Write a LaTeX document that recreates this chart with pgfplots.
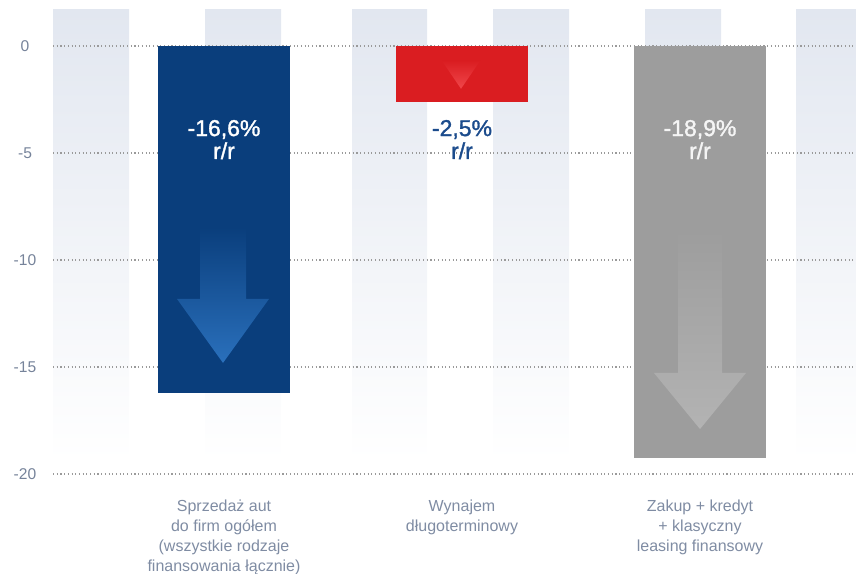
\documentclass[border=0pt]{standalone}
\usepackage{fontspec}
\setmainfont{Liberation Sans}
\newfontfamily\medfont[FakeBold=1.4]{Liberation Sans}
\usepackage{pgfplots}
\pgfplotsset{compat=1.18}
\definecolor{stripe}{HTML}{E2E7F0}
\definecolor{gridc}{HTML}{9A9A9A}
\definecolor{tickc}{HTML}{76839A}
\definecolor{catc}{HTML}{7F8CA3}
\definecolor{barblue}{HTML}{0A3E7C}
\definecolor{arrblue}{HTML}{2A70BC}
\definecolor{arrbluem}{HTML}{1F5EA6}
\definecolor{barred}{HTML}{DA1D21}
\definecolor{arrred}{HTML}{F0474B}
\definecolor{bargray}{HTML}{9D9D9D}
\definecolor{arrgray}{HTML}{B3B3B3}
\definecolor{arrgraym}{HTML}{ABABAB}
\definecolor{lblblue}{HTML}{1B4B8C}
\begin{document}
\begin{tikzpicture}
\useasboundingbox (0,0) rectangle (428pt,286.5pt);
\begin{axis}[
  at={(26.5pt,49.5pt)}, anchor=south west,
  scale only axis, width=401.5pt, height=232pt,
  xmin=53, xmax=856, ymin=-20, ymax=1.682,
  axis line style={draw=none},
  major tick length=0pt,
  ytick={-20,-15,-10,-5,0},
  /pgf/number format/assume math mode=true,
  yticklabel style={font=\fontsize{7.8}{9}\selectfont, text=tickc, anchor=center, xshift=-14pt},
  xtick={224,462,700},
  xticklabels={{Sprzedaż aut\\do firm ogółem\\(wszystkie rodzaje\\finansowania łącznie)},{Wynajem\\długoterminowy},{Zakup + kredyt\\+ klasyczny\\leasing finansowy}},
  xticklabel style={font=\fontsize{8}{10}\selectfont, text=catc, align=center, anchor=north, yshift=-9.3pt},
  clip=false,
  gridline/.style={draw=gridc, line width=0.55pt, dash pattern=on 0.55pt off 1.3pt, forget plot},
]
% background stripes
\fill[top color=stripe, bottom color=white] (axis cs:53,1.682) rectangle (axis cs:129,-19.4);
\fill[top color=stripe, bottom color=white] (axis cs:205,1.682) rectangle (axis cs:281,-19.4);
\fill[top color=stripe, bottom color=white] (axis cs:352,1.682) rectangle (axis cs:427,-19.4);
\fill[top color=stripe, bottom color=white] (axis cs:493,1.682) rectangle (axis cs:569,-19.4);
\fill[top color=stripe, bottom color=white] (axis cs:645,1.682) rectangle (axis cs:721,-19.4);
\fill[top color=stripe, bottom color=white] (axis cs:796,1.682) rectangle (axis cs:856,-19.4);
% grid lines
\addplot[gridline] coordinates {(53,0) (856,0)};
\addplot[gridline] coordinates {(53,-5) (856,-5)};
\addplot[gridline] coordinates {(53,-10) (856,-10)};
\addplot[gridline] coordinates {(53,-15) (856,-15)};
\addplot[gridline] coordinates {(53,-20) (856,-20)};
% bars
\addplot[ybar, bar width=132, fill=barblue, draw=none] coordinates {(224,-16.2)};
\addplot[ybar, bar width=132, fill=barred, draw=none] coordinates {(462,-2.6)};
\addplot[ybar, bar width=132, fill=bargray, draw=none] coordinates {(700,-19.25)};
% arrows inside bars
\shade[top color=barblue, middle color=arrbluem, bottom color=arrblue]
  (axis cs:200,-8.46) -- (axis cs:246,-8.46) -- (axis cs:246,-11.82) -- (axis cs:269,-11.82)
  -- (axis cs:223,-14.81) -- (axis cs:177,-11.82) -- (axis cs:200,-11.82) -- cycle;
\shade[top color=bargray, middle color=arrgraym, bottom color=arrgray]
  (axis cs:678,-8.6) -- (axis cs:722,-8.6) -- (axis cs:722,-15.28) -- (axis cs:746,-15.28)
  -- (axis cs:700,-17.9) -- (axis cs:654,-15.28) -- (axis cs:678,-15.28) -- cycle;
\shade[top color=barred, bottom color=arrred]
  (axis cs:442,-0.7) -- (axis cs:480,-0.7) -- (axis cs:461,-2.0) -- cycle;
% value labels
\node[anchor=base, text=white, font=\medfont\fontsize{11.5}{12}\selectfont] at (axis cs:224,-4.21) {-16,6\%};
\node[anchor=base, text=white, font=\medfont\fontsize{11.5}{12}\selectfont] at (axis cs:224,-5.28) {r/r};
\node[anchor=base, text=lblblue, font=\medfont\fontsize{11.5}{12}\selectfont] at (axis cs:462,-4.21) {-2,5\%};
\node[anchor=base, text=lblblue, font=\medfont\fontsize{11.5}{12}\selectfont] at (axis cs:462,-5.28) {r/r};
\node[anchor=base, text=white!96!black, font=\medfont\fontsize{11.5}{12}\selectfont] at (axis cs:700,-4.21) {-18,9\%};
\node[anchor=base, text=white!96!black, font=\medfont\fontsize{11.5}{12}\selectfont] at (axis cs:700,-5.28) {r/r};
\end{axis}
\end{tikzpicture}
\end{document}
